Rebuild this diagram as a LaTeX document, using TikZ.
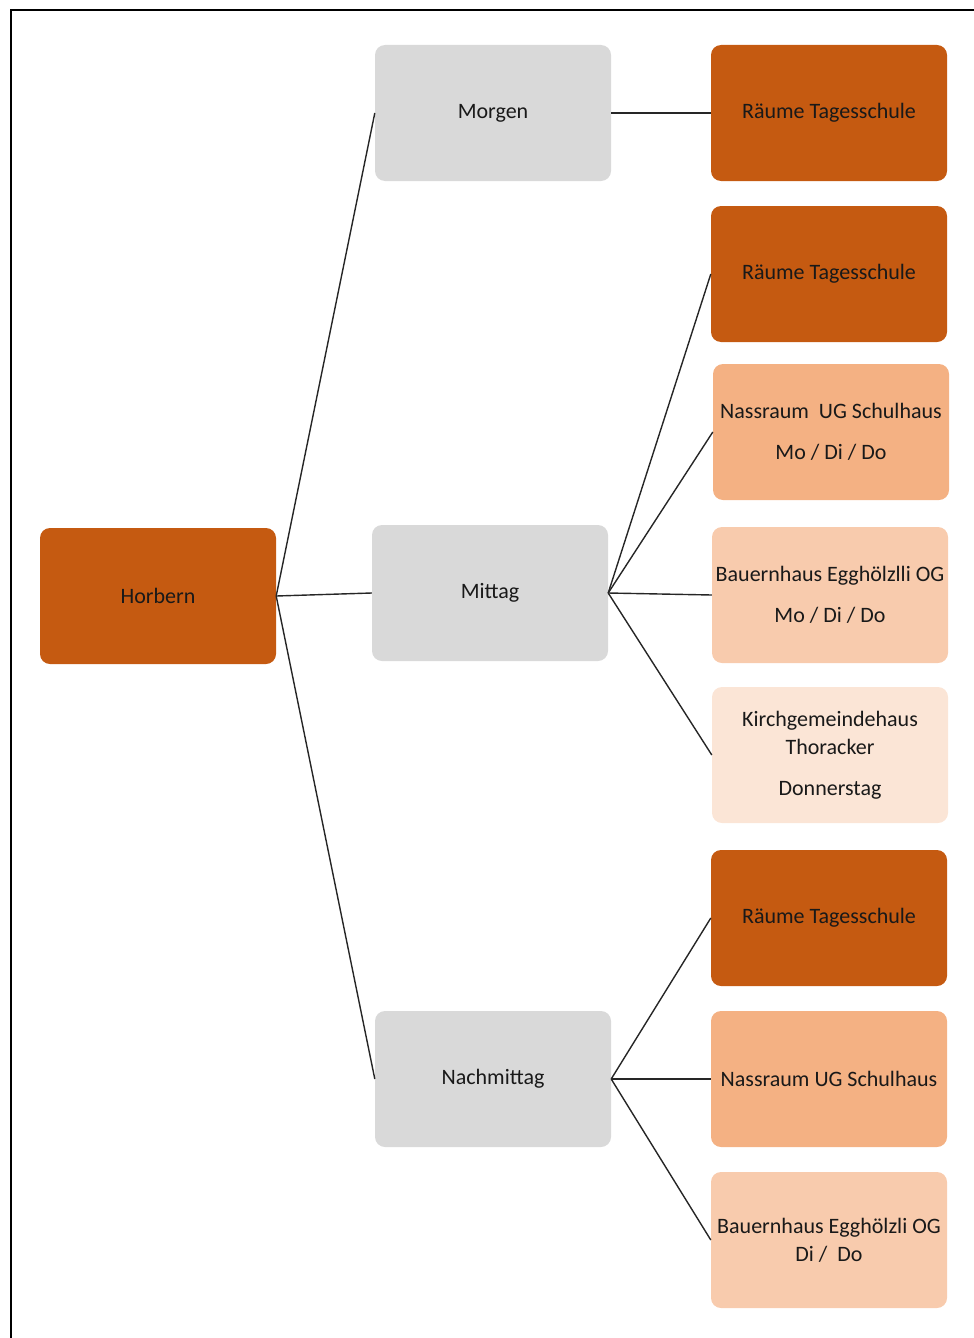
\documentclass[tikz,border=0pt]{standalone}
\usepackage{fontspec}
\setmainfont{Carlito}
\definecolor{darkor}{HTML}{C55A11}
\definecolor{midor}{HTML}{F4B183}
\definecolor{lightor}{HTML}{F8CBAD}
\definecolor{paleor}{HTML}{FBE5D6}
\definecolor{boxgray}{HTML}{D9D9D9}
\tikzset{
  box/.style={rounded corners=10pt, minimum width=236pt, minimum height=136pt,
    inner sep=1pt, align=center, text=black!90, font=\fontsize{22}{28}\selectfont},
  dark/.style={box, fill=darkor},
  mid/.style={box, fill=midor},
  light/.style={box, fill=lightor},
  pale/.style={box, fill=paleor},
  grey/.style={box, fill=boxgray},
  link/.style={draw=black!85, line width=1.4pt}
}
\begin{document}
\begin{tikzpicture}[x=1pt,y=-1pt]
  \useasboundingbox (0,0) rectangle (974,1338);
  % frame
  \draw[line width=2pt] (11,1338) -- (11,10) -- (974,10);

  \node[dark] (horbern) at (158,596) {Horbern};

  \node[grey] (morgen) at (493,113) {Morgen};
  \node[grey] (mittag) at (490,593) {Mittag};
  \node[grey] (nachmittag) at (493,1079) {Nachmittag};

  \node[dark] (mo-ts) at (829,113) {Räume Tagesschule};
  \node[dark] (mi-ts) at (829,274) {Räume Tagesschule};
  \node[mid] (mi-nass) at (831,432) {Nassraum~~UG Schulhaus\\[13pt]Mo / Di / Do};
  \node[light] (mi-bauer) at (830,595) {Bauernhaus Egghölzlli OG\\[13pt]Mo / Di / Do};
  \node[pale] (mi-kirch) at (830,755) {Kirchgemeindehaus\\Thoracker\\[13pt]Donnerstag};
  \node[dark] (na-ts) at (829,918) {Räume Tagesschule};
  \node[mid] (na-nass) at (829,1079) {Nassraum UG Schulhaus};
  \node[light] (na-bauer) at (829,1240) {Bauernhaus Egghölzli OG\\Di /~~Do};

  % connectors
  \foreach \t in {morgen,mittag,nachmittag}
    \draw[link] (horbern.east) -- (\t.west);
  \draw[link] (morgen.east) -- (mo-ts.west);
  \foreach \t in {mi-ts,mi-nass,mi-bauer,mi-kirch}
    \draw[link] (mittag.east) -- (\t.west);
  \foreach \t in {na-ts,na-nass,na-bauer}
    \draw[link] (nachmittag.east) -- (\t.west);
\end{tikzpicture}
\end{document}
